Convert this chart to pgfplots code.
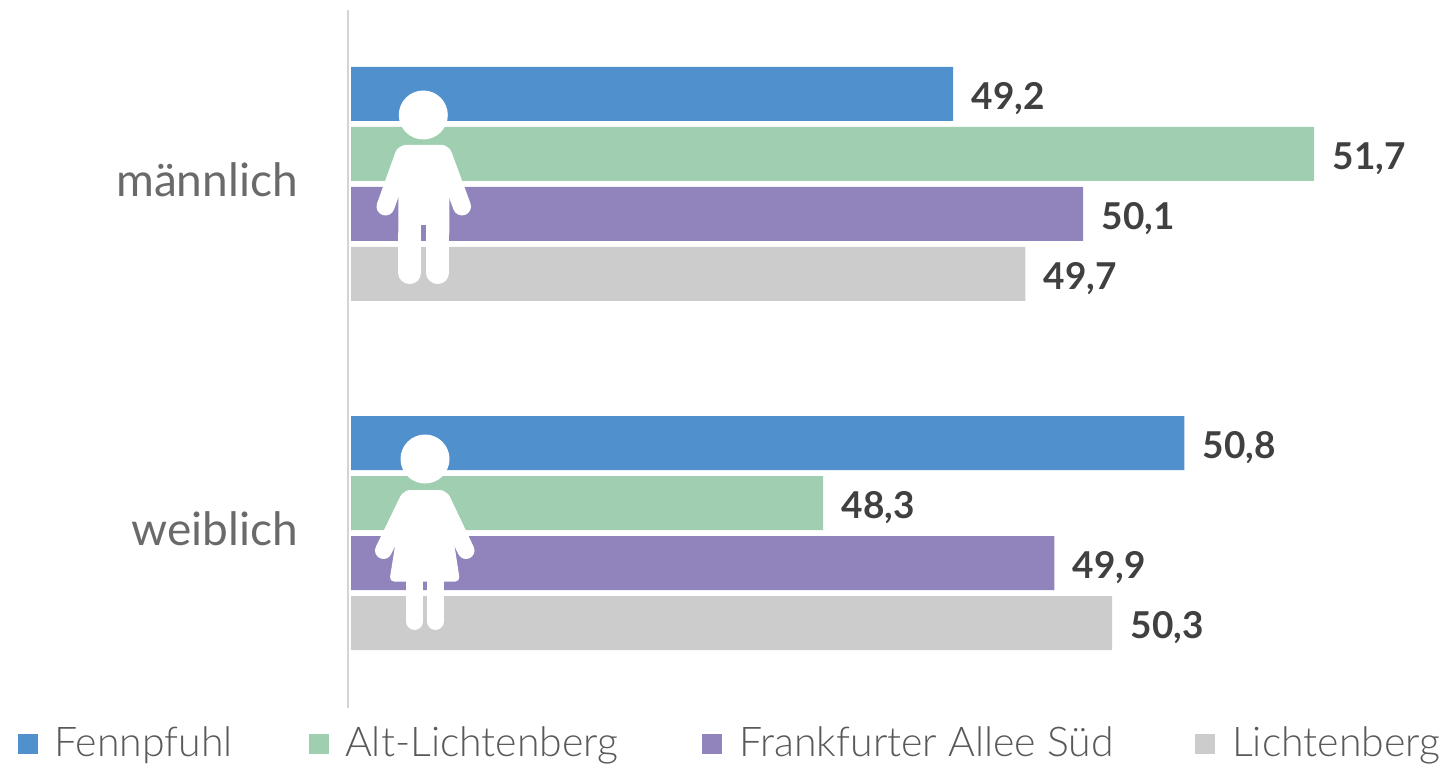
\documentclass[border=0pt]{standalone}
\usepackage{pgfplots}
\usepackage{fontspec}
\pgfplotsset{compat=1.18}
\setmainfont{Lato}
\newfontfamily\legf{Lato Light}
\definecolor{cA}{HTML}{4F90CD}
\definecolor{cB}{HTML}{9FCFB0}
\definecolor{cC}{HTML}{9184BC}
\definecolor{cD}{HTML}{CCCCCC}
\definecolor{txt}{HTML}{595959}
\definecolor{val}{HTML}{404040}
\begin{document}
\begin{tikzpicture}[x=1pt,y=1pt]
\useasboundingbox (0,0) rectangle (1447,764);
\begin{axis}[
  at={(351pt,56.5pt)}, anchor=south west,
  scale only axis, width=1000pt, height=698pt,
  xmin=45.03, xmax=51.955, ymin=-0.5, ymax=1.5,
  axis x line=none, axis y line=none,
  xbar, bar width=54pt,
  clip=false,
  nodes near coords,
  point meta=x,
  /pgf/number format/use comma, /pgf/number format/fixed, /pgf/number format/fixed zerofill, /pgf/number format/precision=1, /pgf/number format/assume math mode=true,
  every node near coord/.style={anchor=west, xshift=15pt, font=\fontsize{37}{42}\selectfont\bfseries, text=val},
]
\addplot[fill=cA, draw=none, bar shift=90pt, every node near coord/.append style={yshift=85pt}] coordinates {(49.2,1) (50.8,0)};
\addplot[fill=cB, draw=none, bar shift=30pt, every node near coord/.append style={yshift=25pt}] coordinates {(51.7,1) (48.3,0)};
\addplot[fill=cC, draw=none, bar shift=-30pt, every node near coord/.append style={yshift=-35pt}] coordinates {(50.1,1) (49.9,0)};
\addplot[fill=cD, draw=none, bar shift=-90pt, every node near coord/.append style={yshift=-95pt}] coordinates {(49.7,1) (50.3,0)};
\end{axis}
% category labels
\node[anchor=east, inner sep=0pt, font=\fontsize{46}{50}\selectfont, text=txt!90!white] at (298,764-180) {männlich};
\node[anchor=east, inner sep=0pt, font=\fontsize{46}{50}\selectfont, text=txt!90!white] at (298,764-529) {weiblich};
% legend
\foreach \sx/\tx/\col/\lab in {18/54/cA/Fennpfuhl, 309/345/cB/Alt-Lichtenberg, 702/739/cC/Frankfurter Allee Süd, 1195/1232/cD/Lichtenberg}{
  \fill[\col] (\sx,764-754) rectangle (\sx+20,764-734);
  \node[anchor=base west, inner sep=0pt, font=\legf\fontsize{41}{44}\selectfont, text=txt] at (\tx,764-756) {\lab};
}
% axis line
\draw[color=cD!85!white, line width=2pt] (348,764-10) -- (348,764-708);
% icons
\begin{scope}[yshift=764pt, y=-1pt, white]
 % male
 \fill (423.3,115) circle (24.5);
 \fill[rounded corners=7pt] (398.3,240) -- (398.3,145) -- (449.3,145) -- (449.3,240) -- cycle;
 \draw[line width=18pt, line cap=round] (404,155) -- (385.5,206.5);
 \draw[line width=18pt, line cap=round] (443,155) -- (462,206.5);
 \draw[line width=22.7pt, line cap=round] (409.7,235) -- (409.7,272.7);
 \draw[line width=22.7pt, line cap=round] (437.7,235) -- (437.7,272.7);
 \fill[cC] (421,225) rectangle (426,241);
 % female
 \fill (425,459) circle (24.5);
 \fill[rounded corners=5pt] (404,490) -- (446,490) -- (460,581.7) -- (389.3,581.7) -- cycle;
 \draw[line width=17pt, line cap=round] (408,500) -- (383.5,550.5);
 \draw[line width=17pt, line cap=round] (442,500) -- (466,550.5);
 \draw[line width=17.3pt, line cap=round] (414.7,575) -- (414.7,621.3);
 \draw[line width=17.3pt, line cap=round] (435.3,575) -- (435.3,621.3);
\end{scope}
\end{tikzpicture}
\end{document}
